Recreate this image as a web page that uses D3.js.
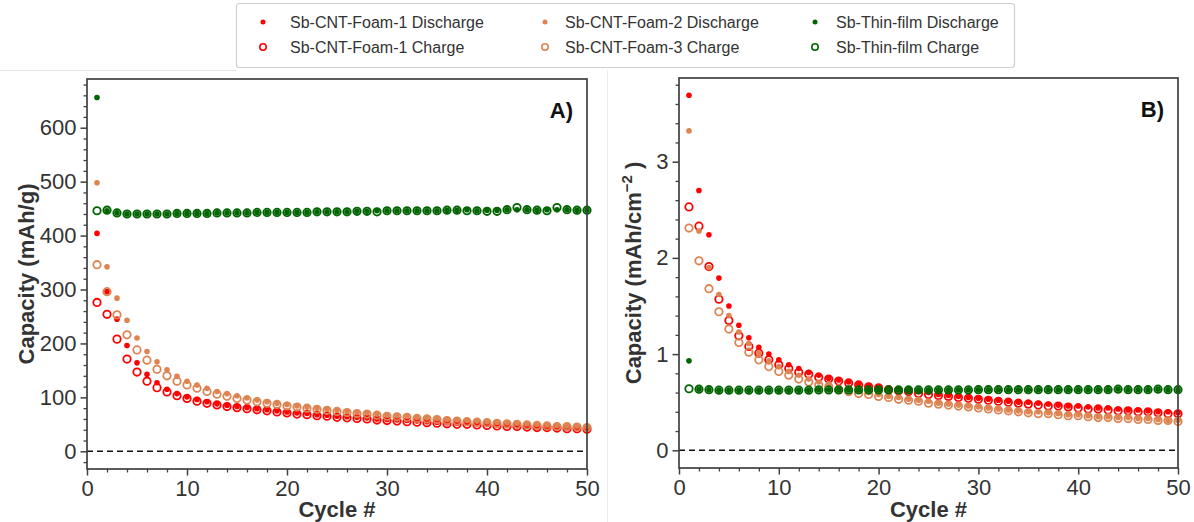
<!DOCTYPE html>
<html>
<head>
<meta charset="utf-8">
<script src="https://cdn.jsdelivr.net/npm/d3@7"></script>
<style>
  html, body { margin: 0; padding: 0; background: #fff; }
  svg { display: block; font-family: "Liberation Sans", Arial, Helvetica, sans-serif; }
</style>
</head>
<body>
<svg id="chart" width="1194" height="522"></svg>
<script>
// Cycle numbers shared by every series
const cycles = d3.range(1, 51);

// Panel A: gravimetric capacity (mAh/g)
const foam1DischargeA = [404, 296, 245, 196, 164, 143, 127, 115, 107, 101, 96, 92, 88, 85, 83, 81, 79, 77, 75, 73,
  71, 70, 68, 67, 65, 64, 63, 62, 60, 59, 58, 57, 56, 55, 54, 53, 52, 52, 51, 50,
  49, 48, 48, 47, 46, 45, 45, 44, 43, 43];
const foam1ChargeA = [276, 254, 208, 171, 147, 130, 118, 110, 103, 98, 93, 89, 86, 83, 81, 79, 77, 75, 73, 71,
  69, 68, 66, 65, 63, 62, 61, 60, 58, 57, 56, 55, 54, 53, 52, 51, 50, 50, 49, 48,
  47, 46, 46, 45, 44, 44, 43, 42, 42, 41];
const foam2DischargeA = [498, 342, 284, 243, 210, 185, 166, 151, 139, 130, 123, 117, 111, 107, 103, 99, 95, 92, 89, 87,
  84, 82, 80, 78, 76, 74, 72, 71, 69, 67, 66, 65, 63, 62, 61, 59, 58, 57, 56, 55,
  54, 53, 52, 51, 50, 49, 48, 47, 47, 46];
const foam3ChargeA = [346, 296, 253, 216, 188, 169, 152, 140, 130, 123, 117, 111, 106, 102, 98, 95, 92, 89, 87, 84,
  82, 80, 78, 76, 74, 72, 70, 69, 67, 65, 64, 63, 61, 60, 59, 57, 56, 55, 54, 53,
  52, 51, 50, 49, 48, 47, 46, 46, 45, 44];
const thinDischargeA = [656, 446, 442, 440, 440, 440, 440, 440, 441, 441, 441, 441, 442, 442, 442, 442, 443, 443, 443, 443,
  443, 443, 444, 444, 444, 444, 445, 445, 446, 446, 446, 446, 446, 446, 446, 447, 447, 448, 446, 447,
  447, 448, 448, 448, 447, 448, 448, 448, 447, 447];
const thinChargeA = [446, 447, 442, 440, 440, 440, 440, 440, 441, 441, 441, 441, 442, 442, 442, 442, 443, 443, 443, 443,
  443, 443, 444, 444, 444, 444, 445, 445, 444, 446, 446, 446, 446, 446, 446, 447, 447, 446, 446, 445,
  445, 448, 452, 448, 447, 446, 452, 448, 447, 447];

// Panel B: areal capacity (mAh/cm^2)
const foam1DischargeB = [3.69, 2.70, 2.24, 1.79, 1.50, 1.30, 1.17, 1.07, 1.00, 0.94, 0.89, 0.85, 0.81, 0.78, 0.75, 0.73, 0.71, 0.69, 0.67, 0.66,
  0.64, 0.63, 0.62, 0.61, 0.60, 0.58, 0.57, 0.56, 0.55, 0.54, 0.53, 0.52, 0.51, 0.50, 0.50, 0.49, 0.48, 0.47, 0.46, 0.46,
  0.45, 0.44, 0.44, 0.43, 0.42, 0.42, 0.41, 0.40, 0.40, 0.39];
const foam1ChargeB = [2.53, 2.33, 1.91, 1.57, 1.35, 1.19, 1.08, 1.01, 0.94, 0.89, 0.85, 0.81, 0.79, 0.76, 0.74, 0.72, 0.70, 0.68, 0.66, 0.65,
  0.63, 0.62, 0.61, 0.59, 0.58, 0.57, 0.56, 0.55, 0.54, 0.53, 0.52, 0.51, 0.50, 0.49, 0.48, 0.47, 0.46, 0.46, 0.45, 0.44,
  0.43, 0.43, 0.42, 0.41, 0.41, 0.40, 0.40, 0.39, 0.38, 0.38];
const foam2DischargeB = [3.32, 2.28, 1.90, 1.62, 1.40, 1.23, 1.11, 1.01, 0.93, 0.87, 0.82, 0.78, 0.74, 0.71, 0.69, 0.66, 0.64, 0.62, 0.60, 0.58,
  0.56, 0.55, 0.53, 0.52, 0.51, 0.49, 0.48, 0.47, 0.46, 0.45, 0.44, 0.43, 0.42, 0.41, 0.40, 0.40, 0.39, 0.38, 0.37, 0.37,
  0.36, 0.35, 0.35, 0.34, 0.34, 0.33, 0.33, 0.32, 0.31, 0.31];
const foam3ChargeB = [2.31, 1.97, 1.68, 1.44, 1.26, 1.12, 1.02, 0.94, 0.87, 0.82, 0.78, 0.74, 0.71, 0.68, 0.66, 0.63, 0.61, 0.59, 0.58, 0.56,
  0.55, 0.53, 0.52, 0.51, 0.49, 0.48, 0.47, 0.46, 0.45, 0.44, 0.43, 0.42, 0.41, 0.40, 0.39, 0.38, 0.38, 0.37, 0.36, 0.36,
  0.35, 0.34, 0.34, 0.33, 0.33, 0.32, 0.32, 0.31, 0.31, 0.30];
const thinDischargeB = [0.93, 0.635, 0.630, 0.625, 0.625, 0.625, 0.625, 0.625, 0.625, 0.625, 0.625, 0.625, 0.625, 0.628, 0.628, 0.628, 0.628, 0.628, 0.628, 0.628,
  0.628, 0.628, 0.628, 0.628, 0.628, 0.628, 0.628, 0.628, 0.628, 0.630, 0.630, 0.630, 0.630, 0.630, 0.630, 0.630, 0.630, 0.630, 0.630, 0.630,
  0.630, 0.630, 0.630, 0.635, 0.630, 0.630, 0.630, 0.635, 0.630, 0.630];
const thinChargeB = [0.64, 0.635, 0.630, 0.625, 0.625, 0.625, 0.625, 0.625, 0.625, 0.625, 0.625, 0.625, 0.625, 0.628, 0.628, 0.628, 0.628, 0.628, 0.628, 0.628,
  0.628, 0.628, 0.628, 0.628, 0.628, 0.628, 0.628, 0.628, 0.628, 0.630, 0.630, 0.630, 0.630, 0.630, 0.630, 0.630, 0.630, 0.630, 0.630, 0.630,
  0.630, 0.630, 0.630, 0.635, 0.630, 0.630, 0.630, 0.635, 0.630, 0.630];

// Legend entries in drawing order
const seriesNames = ["Sb-CNT-Foam-1 Discharge", "Sb-CNT-Foam-1 Charge", "Sb-CNT-Foam-2 Discharge",
                     "Sb-CNT-Foam-3 Charge", "Sb-Thin-film Discharge", "Sb-Thin-film Charge"];
const seriesKinds = ["discharge", "charge", "discharge", "charge", "discharge", "charge"];
const seriesColors = ["#ff0000", "#ff0000", "#dd8452", "#dd8452", "#006400", "#006400"];

// Axis tick values
const xTicks = [0, 10, 20, 30, 40, 50];
const yTicksA = [0, 100, 200, 300, 400, 500, 600];
const yTicksB = [0, 1, 2, 3];

const svg = d3.select("#chart");
const ink = "#404040";
const dotR = 2.8, ringR = 3.7, ringW = 1.8;

// faint panel edges
svg.append("line").attr("x1", 0).attr("x2", 236).attr("y1", 70.5).attr("y2", 70.5)
  .attr("stroke", "#e6e6e6").attr("stroke-width", 1);
svg.append("line").attr("x1", 607.5).attr("x2", 607.5).attr("y1", 70).attr("y2", 522)
  .attr("stroke", "#ececec").attr("stroke-width", 1);

function drawPanel(cfg) {
  const { left, right, top, bottom, yDomain, yMajor, yMinorStep, series, tag, yLabelX, yLabel } = cfg;
  const x = d3.scaleLinear().domain([0, 50]).range([left, right]);
  const y = d3.scaleLinear().domain(yDomain).range([bottom, top]);
  const g = svg.append("g");
  const fmt = d3.format("d");

  // minor ticks
  const xMinor = d3.range(0, 50.001, 2).filter(v => v % 10 !== 0);
  const yMinor = d3.range(Math.ceil(yDomain[0] / yMinorStep) * yMinorStep, yDomain[1], yMinorStep)
    .map(v => +v.toFixed(4))
    .filter(v => !yMajor.some(m => Math.abs(m - v) < 1e-6));

  g.append("g").attr("transform", `translate(0,${bottom})`)
    .call(d3.axisBottom(x).tickValues(xMinor).tickSize(3.5).tickFormat(""))
    .call(a => a.select(".domain").remove())
    .call(a => a.selectAll("line").attr("stroke", ink).attr("stroke-width", 1.3));
  g.append("g").attr("transform", `translate(${left},0)`)
    .call(d3.axisLeft(y).tickValues(yMinor).tickSize(3.5).tickFormat(""))
    .call(a => a.select(".domain").remove())
    .call(a => a.selectAll("line").attr("stroke", ink).attr("stroke-width", 1.3));

  // major ticks with labels
  g.append("g").attr("transform", `translate(0,${bottom})`)
    .call(d3.axisBottom(x).tickValues(xTicks).tickSize(6.5).tickPadding(5).tickFormat(fmt))
    .call(a => a.select(".domain").remove())
    .call(a => a.selectAll("line").attr("stroke", ink).attr("stroke-width", 1.5))
    .call(a => a.selectAll("text").attr("fill", "#333").attr("font-size", 22)
      .attr("font-family", "'Liberation Sans', Arial, sans-serif"));
  g.append("g").attr("transform", `translate(${left},0)`)
    .call(d3.axisLeft(y).tickValues(yMajor).tickSize(6.5).tickPadding(4).tickFormat(fmt))
    .call(a => a.select(".domain").remove())
    .call(a => a.selectAll("line").attr("stroke", ink).attr("stroke-width", 1.5))
    .call(a => a.selectAll("text").attr("fill", "#333").attr("font-size", 22)
      .attr("font-family", "'Liberation Sans', Arial, sans-serif"));

  // zero reference line
  g.append("line").attr("x1", left).attr("x2", right).attr("y1", y(0)).attr("y2", y(0))
    .attr("stroke", "#111").attr("stroke-width", 1.5).attr("stroke-dasharray", "6,4");

  // data points
  series.forEach((vals, i) => {
    const sel = g.append("g").selectAll("circle").data(cycles.map((c, k) => [c, vals[k]])).join("circle")
      .attr("cx", d => x(d[0])).attr("cy", d => y(d[1]));
    if (seriesKinds[i] === "discharge") {
      sel.attr("r", dotR).attr("fill", seriesColors[i]);
    } else {
      sel.attr("r", ringR).attr("fill", "none").attr("stroke", seriesColors[i]).attr("stroke-width", ringW);
    }
  });

  // frame
  g.append("rect").attr("x", left).attr("y", top).attr("width", right - left).attr("height", bottom - top)
    .attr("fill", "none").attr("stroke", ink).attr("stroke-width", 1.7);

  // panel tag
  g.append("text").attr("x", right - 14).attr("y", top + 39).attr("text-anchor", "end")
    .attr("font-size", 22).attr("font-weight", "bold").attr("fill", "#111").text(tag);

  // axis titles
  g.append("text").attr("x", (left + right) / 2).attr("y", 517).attr("text-anchor", "middle")
    .attr("font-size", 22).attr("font-weight", "bold").attr("fill", "#333").text("Cycle #");
  const yl = g.append("text").attr("transform", `translate(${yLabelX},${(top + bottom) / 2}) rotate(-90)`)
    .attr("text-anchor", "middle").attr("font-size", 22).attr("font-weight", "bold").attr("fill", "#333");
  yLabel(yl);
}

drawPanel({
  left: 87, right: 587, top: 79, bottom: 469,
  yDomain: [-32.8, 690.3], yMajor: yTicksA, yMinorStep: 20,
  series: [foam1DischargeA, foam1ChargeA, foam2DischargeA, foam3ChargeA, thinDischargeA, thinChargeA],
  tag: "A)", yLabelX: 34,
  yLabel: t => t.text("Capacity (mAh/g)")
});

drawPanel({
  left: 679, right: 1178, top: 78, bottom: 468,
  yDomain: [-0.184, 3.87], yMajor: yTicksB, yMinorStep: 0.2,
  series: [foam1DischargeB, foam1ChargeB, foam2DischargeB, foam3ChargeB, thinDischargeB, thinChargeB],
  tag: "B)", yLabelX: 641,
  yLabel: t => {
    t.append("tspan").text("Capacity (mAh/cm");
    t.append("tspan").attr("font-size", 15).attr("dy", -9).text("\u22122");
    t.append("tspan").attr("dy", 9).text(" )");
  }
});

// legend
const legend = svg.append("g");
legend.append("rect").attr("x", 236.5).attr("y", 3.5).attr("width", 778).attr("height", 64).attr("rx", 3)
  .attr("fill", "#fff").attr("stroke", "#d0d0d0").attr("stroke-width", 1.2);
const legMarkX = [263, 545, 815];
const legTextX = [290, 565, 836];
const legRowY = [22, 47];
seriesNames.forEach((name, i) => {
  const col = Math.floor(i / 2), row = i % 2;
  const item = legend.append("g");
  if (seriesKinds[i] === "discharge") {
    item.append("circle").attr("cx", legMarkX[col]).attr("cy", legRowY[row]).attr("r", 2.5).attr("fill", seriesColors[i]);
  } else {
    item.append("circle").attr("cx", legMarkX[col]).attr("cy", legRowY[row]).attr("r", 3.2)
      .attr("fill", "none").attr("stroke", seriesColors[i]).attr("stroke-width", 1.6);
  }
  item.append("text").attr("x", legTextX[col]).attr("y", legRowY[row]).attr("dy", "0.35em")
    .attr("font-size", 16).attr("fill", "#333").text(name);
});
</script>
</body>
</html>
